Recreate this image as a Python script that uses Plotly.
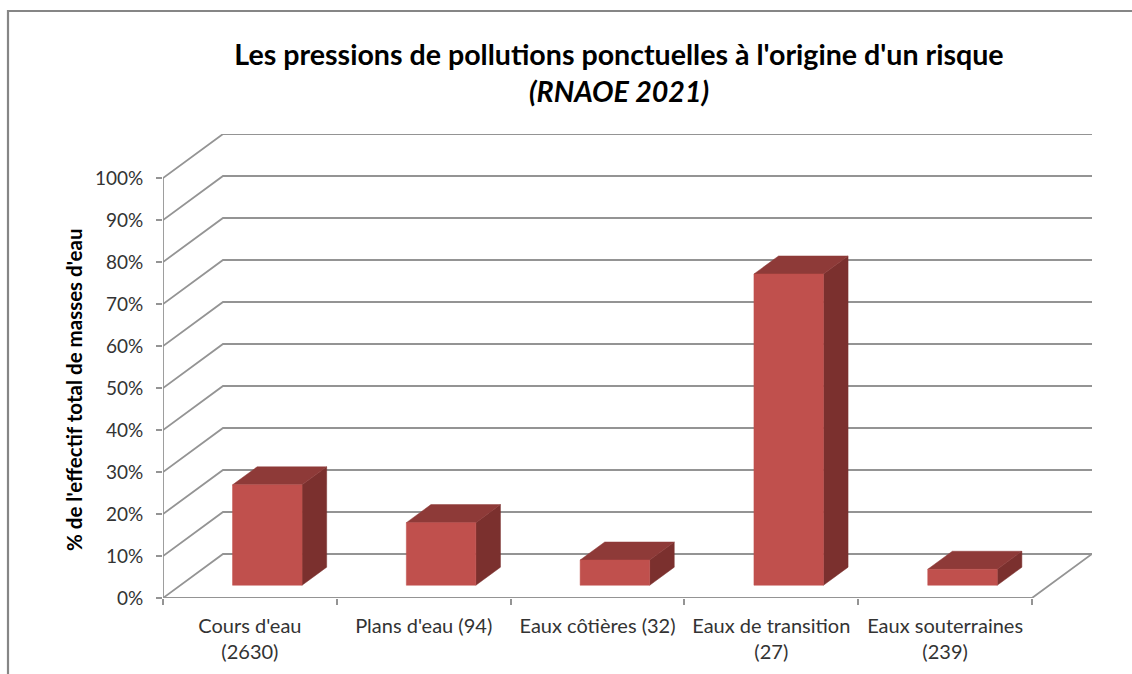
import plotly.graph_objects as go

categories = ["Cours d'eau<br>(2630)", "Plans d'eau (94)", "Eaux côtières (32)",
              "Eaux de transition<br>(27)", "Eaux souterraines<br>(239)"]
values = [23.9, 14.9, 6.0, 74.1, 3.8]
y_ticks = [0, 10, 20, 30, 40, 50, 60, 70, 80, 90, 100]

W, H = 1132, 674
L, R, T, B = 163, 1092, 134, 598        # plot-area pixel box
px_per_cat = (1032 - 163) / 5
px_per_pct = 4.2
DX = (R - 1032) / px_per_cat            # oblique depth, category units
DY = (B - 554) / px_per_pct             # oblique depth, percent units
BAR_W = 0.4
D0, D1 = 0.29, 0.70                     # bar front/back as fraction of depth

GRID = "#949494"
FRONT, TOP, SIDE = "#C0504D", "#8E3A38", "#7B302E"

fig = go.Figure()

def line(xs, ys, color=GRID, width=1.8):
    fig.add_trace(go.Scatter(x=xs, y=ys, mode="lines", hoverinfo="skip",
                             line=dict(color=color, width=width)))

def poly(xs, ys, color):
    fig.add_trace(go.Scatter(x=xs, y=ys, mode="lines", fill="toself", fillcolor=color,
                             hoverinfo="skip", line=dict(color=color, width=0.5)))

for t in y_ticks:
    line([0, DX, 5 + DX], [t, t + DY, t + DY])
line([0, 5, 5 + DX], [0, 0, DY])

for i, v in enumerate(values):
    x0 = i + 0.5 - BAR_W / 2 + D0 * DX
    x1 = x0 + BAR_W
    sx = (D1 - D0) * DX
    sy = (D1 - D0) * DY
    y0 = D0 * DY
    y1 = y0 + v
    poly([x1, x1 + sx, x1 + sx, x1, x1], [y0, y0 + sy, y1 + sy, y1, y0], SIDE)
    poly([x0, x1, x1 + sx, x0 + sx, x0], [y1, y1, y1 + sy, y1 + sy, y1], TOP)
    poly([x0, x1, x1, x0, x0], [y0, y0, y1, y1, y0], FRONT)

fig.update_layout(
    width=W, height=H,
    margin=dict(l=L, r=W - R, t=T, b=H - B, pad=0, autoexpand=False),
    paper_bgcolor="white", plot_bgcolor="white",
    showlegend=False,
    font=dict(family="Lato"),
    title=dict(
        text="Les pressions de pollutions ponctuelles à l'origine d'un risque<br><i>(RNAOE 2021)</i>",
        font=dict(family="Lato", size=28.6, color="black", weight="bold"),
        x=619 / W, xanchor="center", xref="container",
        y=1 - 65 / H, yanchor="bottom", yref="container",
    ),
    xaxis=dict(
        range=[0, 5 + DX], showgrid=False, zeroline=False, showline=False, automargin=False,
        tickmode="array", tickvals=[i + 0.5 for i in range(5)], ticktext=categories,
        ticks="outside", ticklen=10, tickcolor="rgba(0,0,0,0)",
        tickfont=dict(family="Lato", size=20, color="#333333"),
        minor=dict(tickmode="array", tickvals=list(range(6)), ticks="outside",
                   ticklen=6, tickwidth=1.8, tickcolor=GRID, showgrid=False),
        fixedrange=True,
    ),
    yaxis=dict(
        range=[0, (B - T) / px_per_pct], showgrid=False, zeroline=False,
        showline=False, automargin=False,
        tickmode="array", tickvals=y_ticks, ticktext=[f"{t}%" for t in y_ticks],
        ticks="outside", ticklen=6, tickwidth=1.8, tickcolor=GRID,
        tickfont=dict(family="Lato", size=19, color="#333333"),
        ticklabelstandoff=9,
        fixedrange=True,
    ),
    annotations=[dict(text="<b>% de l'effectif total de masses d'eau</b>", textangle=-90,
                      xref="paper", yref="paper",
                      x=(74 - L) / (R - L), y=(B - 390) / (B - T),
                      xanchor="center", yanchor="middle", showarrow=False,
                      font=dict(family="Lato", size=20.5, color="black"))],
    shapes=[dict(type="path", xref="paper", yref="paper", layer="below",
                 path=f"M {(8 - L) / (R - L)} {(B - H) / (B - T)} "
                      f"L {(8 - L) / (R - L)} {(B - 11) / (B - T)} "
                      f"L {(W - L) / (R - L)} {(B - 11) / (B - T)}",
                 line=dict(color="#868686", width=2.2))],
)
line([0, 0], [0, 100])
line([0, 5], [0, 0])

fig.write_html("out.html", config={"displayModeBar": False},
               post_script="document.body.style.margin='0';document.body.style.overflow='hidden';")
